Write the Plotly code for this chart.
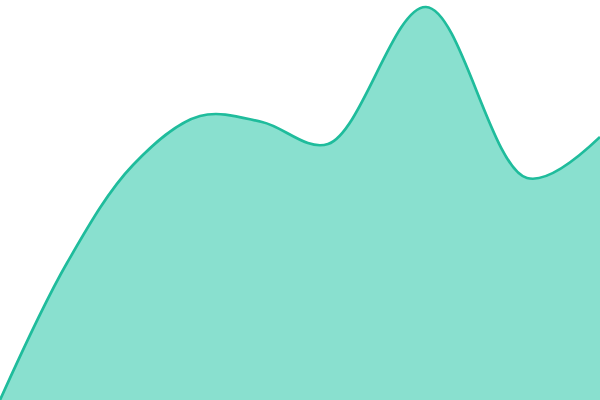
import plotly.graph_objects as go

positions = [0, 67, 133, 200, 262, 328, 426, 527, 600]
values = [0, 137, 235, 284, 278, 256, 393, 222, 263]

fig = go.Figure()
fig.add_trace(go.Scatter(
    x=positions, y=values, mode="lines",
    line=dict(color="#1fbc9c", width=2.7, shape="spline", smoothing=1),
    fill="tozeroy", fillcolor="#89e0cf",
    hoverinfo="skip",
))
fig.update_layout(
    width=600, height=400,
    margin=dict(l=0, r=0, t=0, b=0),
    paper_bgcolor="white", plot_bgcolor="white",
    showlegend=False,
    xaxis=dict(visible=False, range=[0, 600], fixedrange=True),
    yaxis=dict(visible=False, range=[0, 400], fixedrange=True),
)
fig.write_html("out.html", config={"displayModeBar": False},
               post_script="document.body.style.margin='0';document.body.style.overflow='hidden';")
